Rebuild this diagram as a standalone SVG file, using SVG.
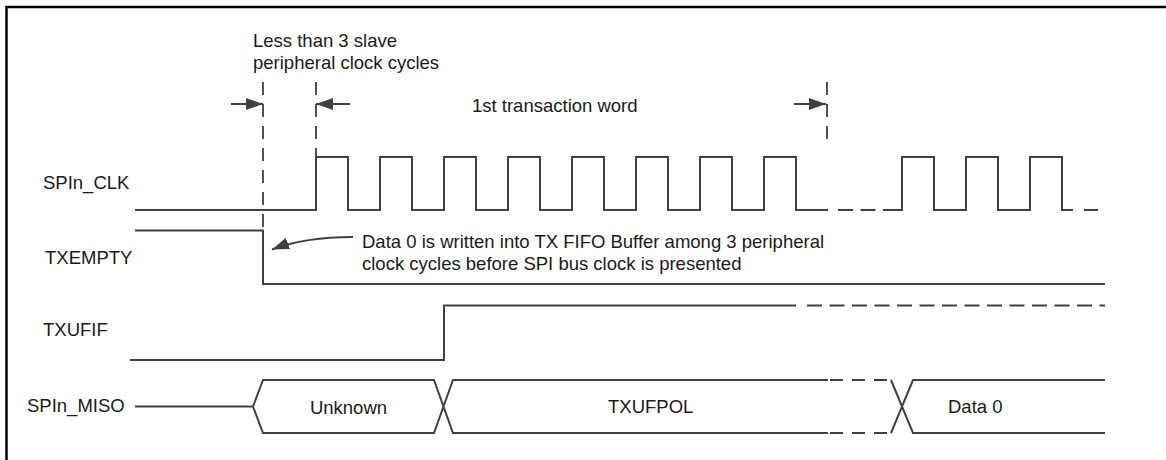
<svg xmlns="http://www.w3.org/2000/svg" width="1166" height="460" viewBox="0 0 1166 460">
<defs>
<style>
text{font-family:"Liberation Sans",Arial,sans-serif;font-size:18.5px;fill:#1a1a1a}
.w{fill:none;stroke:#404040;stroke-width:2}
.dh{fill:none;stroke:#404040;stroke-width:2;stroke-dasharray:15 7.5}
.dv{fill:none;stroke:#404040;stroke-width:1.8;stroke-dasharray:13 9}
.ar{fill:none;stroke:#404040;stroke-width:2}
.mid{text-anchor:middle}
</style>
<marker id="ah" viewBox="0 0 17 12" markerUnits="userSpaceOnUse" markerWidth="17" markerHeight="12" refX="17" refY="6" orient="auto">
<path d="M0,0 L17,6 L0,12 z" fill="#404040"/>
</marker>
</defs>
<rect x="6.5" y="7" width="1200" height="500" fill="none" stroke="#000" stroke-width="2.5"/>
<g id="labels">
<text x="43" y="188.5">SPIn_CLK</text>
<text x="45" y="263.5">TXEMPTY</text>
<text x="43" y="336">TXUFIF</text>
<text x="27" y="412">SPIn_MISO</text>
</g>
<g id="clk">
<path class="w" d="M135,210 H316 V157 H348 V210 H380 V157 H412 V210 H444 V157 H476 V210 H508 V157 H540 V210 H572 V157 H604 V210 H636 V157 H668 V210 H700 V157 H732 V210 H764 V157 H796 V210 H828"/>
<path class="dh" d="M838,210 H898"/>
<path class="w" d="M898,210 H902 V157 H934 V210 H966 V157 H998 V210 H1030 V157 H1062 V210 H1073"/>
<path class="w" d="M1084,210 H1098"/>
</g>
<g id="txempty">
<path class="w" d="M135,230.5 H263 V284 H1105"/>
</g>
<g id="txufif">
<path class="w" d="M130,360 H444 V305.5 H796"/>
<path class="dh" d="M807,305.5 H1105"/>
</g>
<g id="miso">
<path class="w" d="M135,406.5 H253 L263,380 H434 L453,433 H828 M253,406.5 L263,433 H434 L453,380 H828"/>
<path class="dv" style="stroke-width:2" d="M830,380 H891 M830,433 H891"/>
<path class="w" d="M891,380 L913,433 H1105 M891,433 L913,380 H1105"/>
<text class="mid" x="348.5" y="413.5">Unknown</text>
<text x="608" y="413">TXUFPOL</text>
<text x="948" y="413">Data 0</text>
</g>
<g id="timing-marks">
<path class="dv" d="M263,82 V230"/>
<path class="dv" d="M316,82 V157"/>
<path class="dv" d="M827,82 V146"/>
</g>
<g id="connectors">
<path class="ar" d="M231,104 H263" marker-end="url(#ah)"/>
<path class="ar" d="M350,104 H316" marker-end="url(#ah)"/>
<path class="ar" d="M794,104 H826" marker-end="url(#ah)"/>
<path class="ar" d="M353,237 Q305,237 272,249.5" marker-end="url(#ah)"/>
</g>
<g id="annotations">
<text x="253" y="46.5">Less than 3 slave</text>
<text x="253" y="68.5">peripheral clock cycles</text>
<text x="472" y="112">1st transaction word</text>
<text x="362" y="247.5">Data 0 is written into TX FIFO Buffer among 3 peripheral</text>
<text x="362" y="269.5">clock cycles before SPI bus clock is presented</text>
</g>
</svg>
